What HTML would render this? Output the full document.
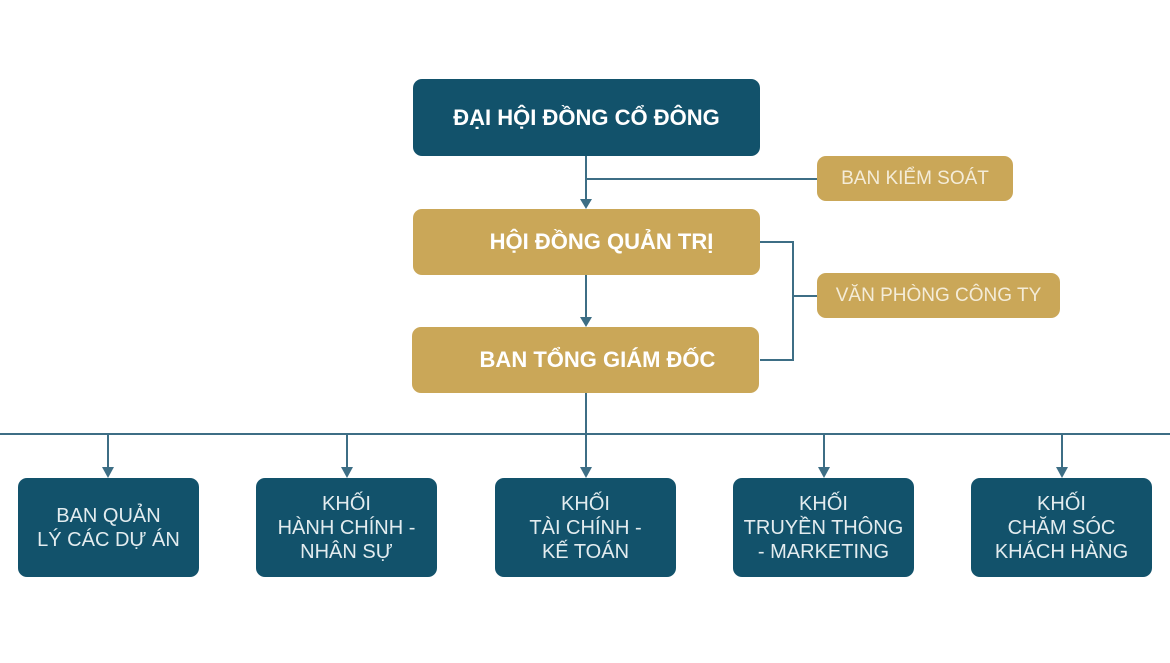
<!DOCTYPE html>
<html><head><meta charset="utf-8"><style>
body{margin:0;width:1170px;height:663px;background:#fff;position:relative;overflow:hidden;font-family:"Liberation Sans","DejaVu Sans",sans-serif}
.b{position:absolute;box-sizing:border-box;display:flex;align-items:center;justify-content:center;text-align:center;color:#fff;border-radius:9px}
.d{background:#12526b}.g{background:#caa758}
.big{font-weight:bold;font-size:22px}
.sm{font-size:19px;color:#f4ecd8}
.bt{font-size:20px;line-height:24px;color:#e3ecef}
svg{position:absolute;left:0;top:0}
</style></head><body>
<svg width="1170" height="663">
<g stroke="#3d6e85" stroke-width="2" fill="none">
<line x1="586" y1="156" x2="586" y2="201"/>
<line x1="586" y1="179" x2="817" y2="179"/>
<line x1="586" y1="275" x2="586" y2="319"/>
<polyline points="760,242 793,242 793,360 760,360"/>
<line x1="793" y1="296" x2="817" y2="296"/>
<line x1="586" y1="393" x2="586" y2="434"/>
<line x1="0" y1="434" x2="1170" y2="434"/>
<line x1="108" y1="434" x2="108" y2="468"/>
<line x1="347" y1="434" x2="347" y2="468"/>
<line x1="586" y1="434" x2="586" y2="468"/>
<line x1="824" y1="434" x2="824" y2="468"/>
<line x1="1062" y1="434" x2="1062" y2="468"/>
</g>
<g fill="#3d6e85">
<polygon points="580,199 592,199 586,209"/>
<polygon points="580,317 592,317 586,327"/>
<polygon points="102,467 114,467 108,478"/>
<polygon points="341,467 353,467 347,478"/>
<polygon points="580,467 592,467 586,478"/>
<polygon points="818,467 830,467 824,478"/>
<polygon points="1056,467 1068,467 1062,478"/>
</g>
</svg>
<div class="b d big" style="left:413px;top:79px;width:347px;height:77px">ĐẠI HỘI ĐỒNG CỔ ĐÔNG</div>
<div class="b g big" style="left:413px;top:209px;width:347px;height:66px;padding-left:30px">HỘI ĐỒNG QUẢN TRỊ</div>
<div class="b g big" style="left:412px;top:327px;width:347px;height:66px;padding-left:24px">BAN TỔNG GIÁM ĐỐC</div>
<div class="b g sm" style="left:817px;top:156px;width:196px;height:45px">BAN KIỂM SOÁT</div>
<div class="b g sm" style="left:817px;top:273px;width:243px;height:45px">VĂN PHÒNG CÔNG TY</div>
<div class="b d bt" style="left:18px;top:478px;width:181px;height:99px">BAN QUẢN<br>LÝ CÁC DỰ ÁN</div>
<div class="b d bt" style="left:256px;top:478px;width:181px;height:99px">KHỐI<br>HÀNH CHÍNH -<br>NHÂN SỰ</div>
<div class="b d bt" style="left:495px;top:478px;width:181px;height:99px">KHỐI<br>TÀI CHÍNH -<br>KẾ TOÁN</div>
<div class="b d bt" style="left:733px;top:478px;width:181px;height:99px">KHỐI<br>TRUYỀN THÔNG<br>- MARKETING</div>
<div class="b d bt" style="left:971px;top:478px;width:181px;height:99px">KHỐI<br>CHĂM SÓC<br>KHÁCH HÀNG</div>
</body></html>
